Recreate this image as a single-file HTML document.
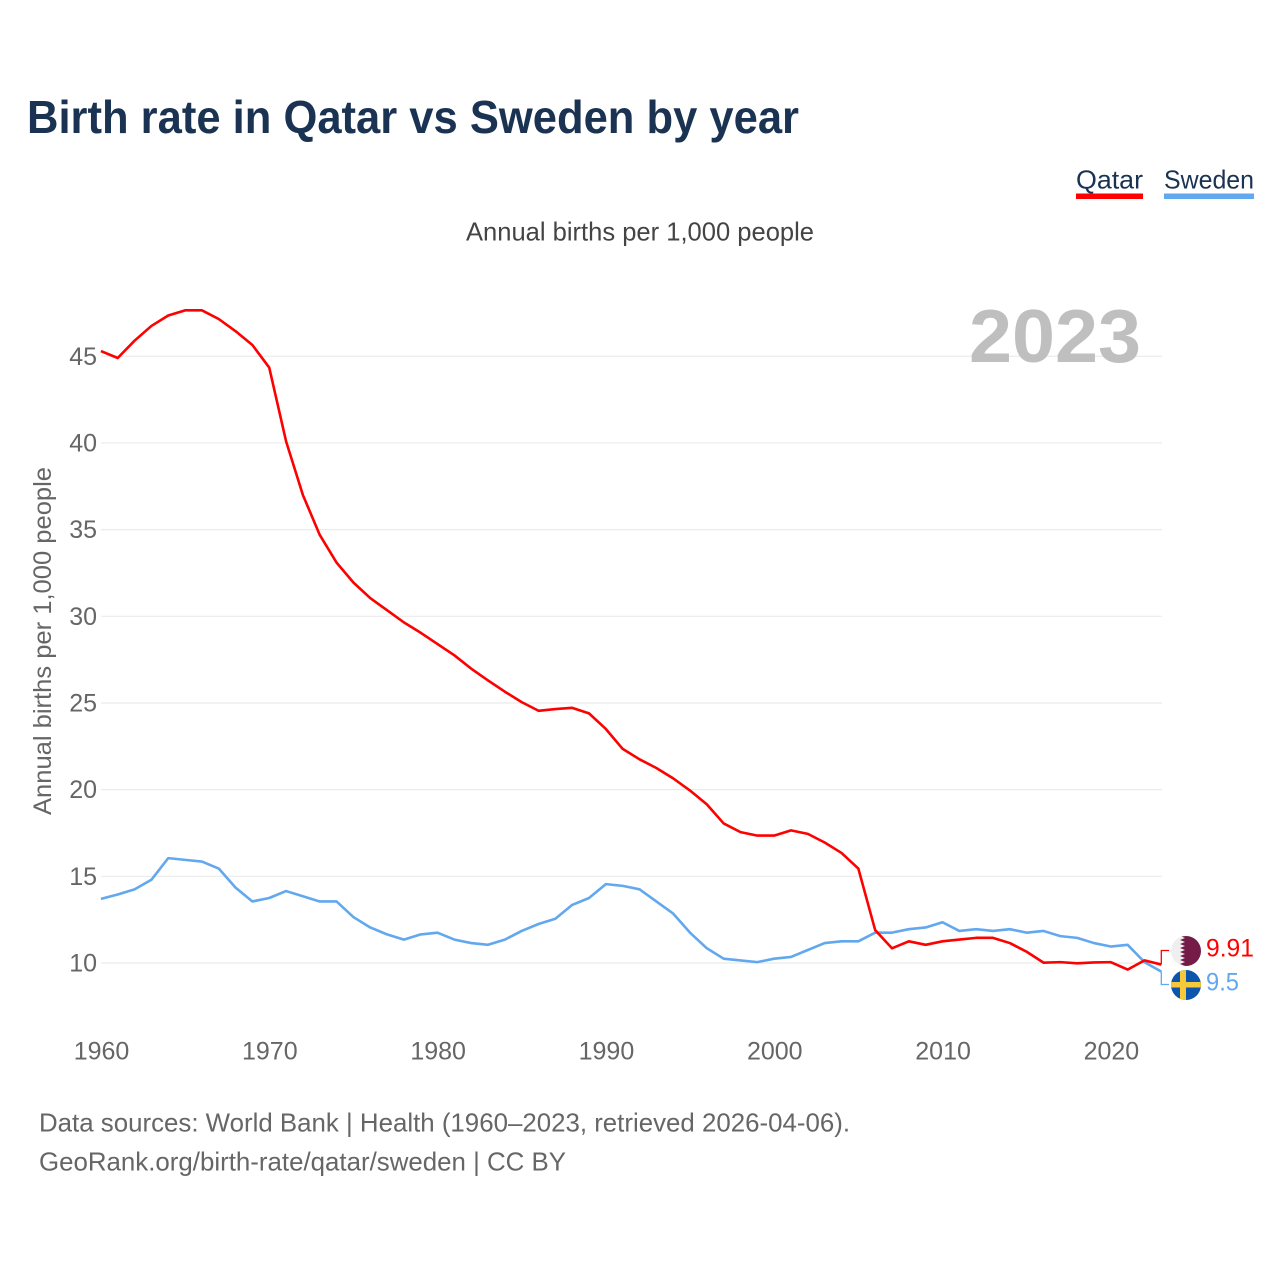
<!DOCTYPE html>
<html lang="en">
<head>
<meta charset="utf-8">
<title>Birth rate in Qatar vs Sweden by year</title>
<style>
html,body{margin:0;padding:0;background:#fff;}
svg{display:block;font-family:"Liberation Sans",sans-serif;}
</style>
</head>
<body>
<svg id="chart" xmlns="http://www.w3.org/2000/svg" width="1280" height="1280" viewBox="0 0 1280 1280">
  <rect x="0" y="0" width="1280" height="1280" fill="#fff"/>
  <text x="27" y="133" font-size="46" font-weight="700" fill="#1a3353" textLength="772" lengthAdjust="spacingAndGlyphs">Birth rate in Qatar vs Sweden by year</text>

  <g>
    <text x="1076" y="188.5" font-size="26" fill="#1a3353" textLength="67" lengthAdjust="spacingAndGlyphs">Qatar</text>
    <rect x="1076" y="193.5" width="67" height="5.5" fill="#ff0000"/>
  </g>
  <g>
    <text x="1164" y="188.5" font-size="26" fill="#1a3353" textLength="90" lengthAdjust="spacingAndGlyphs">Sweden</text>
    <rect x="1164" y="193.5" width="90" height="5.5" fill="#62a8ef"/>
  </g>

  <text x="466" y="240.5" font-size="26" fill="#444" textLength="348" lengthAdjust="spacingAndGlyphs">Annual births per 1,000 people</text>
  <text transform="translate(51,815) rotate(-90)" x="0" y="0" font-size="25" fill="#666" textLength="348" lengthAdjust="spacingAndGlyphs">Annual births per 1,000 people</text>

  <g id="grid"></g>
  <g id="yticks"></g>
  <g id="xticks"></g>

  <text x="969" y="362" font-size="75" font-weight="700" fill="#bfbfbf" textLength="172" lengthAdjust="spacingAndGlyphs">2023</text>

  <g id="series"></g>

  <defs>
    <clipPath id="qatar-clip"><circle cx="1186" cy="951" r="15"/></clipPath>
    <clipPath id="sweden-clip"><circle cx="1186" cy="985" r="15"/></clipPath>
  </defs>
  <g clip-path="url(#qatar-clip)">
    <rect x="1171" y="936" width="30" height="30" fill="#efefef"/>
    <polygon fill="#741c47" points="1201,936 1180,936 1185,938 1180,940 1185,942 1180,944 1185,946 1180,948 1185,950 1180,952 1185,954 1180,956 1185,958 1180,960 1185,962 1180,964 1185,966 1201,966"/>
  </g>
  <g clip-path="url(#sweden-clip)">
    <rect x="1171" y="970" width="30" height="30" fill="#0b55ad"/>
    <rect x="1180" y="970" width="6" height="30" fill="#f6c93a"/>
    <rect x="1171" y="982" width="30" height="5.5" fill="#f6c93a"/>
  </g>

  <text x="1206" y="956.5" font-size="25" fill="#ff0000" textLength="48" lengthAdjust="spacingAndGlyphs">9.91</text>
  <text x="1206" y="990.5" font-size="25" fill="#62a8ef" textLength="33" lengthAdjust="spacingAndGlyphs">9.5</text>

  <text x="39" y="1131.5" font-size="26" fill="#666" textLength="811" lengthAdjust="spacingAndGlyphs">Data sources: World Bank | Health (1960–2023, retrieved 2026-04-06).</text>
  <text x="39" y="1170.5" font-size="26" fill="#666" textLength="527" lengthAdjust="spacingAndGlyphs">GeoRank.org/birth-rate/qatar/sweden | CC BY</text>
</svg>
<script>
const startYear = 1960;
const xTickLabels = [1960, 1970, 1980, 1990, 2000, 2010, 2020];
const yTickLabels = [10, 15, 20, 25, 30, 35, 40, 45];
const qatarValues = [
  45.3, 44.9, 45.9, 46.75, 47.35, 47.65, 47.65, 47.15, 46.45, 45.65,
  44.35, 40.1, 37.0, 34.7, 33.1, 31.95, 31.05, 30.35, 29.65, 29.05,
  28.4, 27.75, 26.98, 26.3, 25.65, 25.05, 24.55, 24.65, 24.72, 24.4,
  23.5, 22.35, 21.75, 21.25, 20.65, 19.95, 19.15, 18.05, 17.55, 17.35,
  17.35, 17.65, 17.45, 16.95, 16.35, 15.45, 11.9, 10.85, 11.25, 11.05,
  11.25, 11.35, 11.45, 11.45, 11.15, 10.65, 10.02, 10.05, 9.98, 10.03,
  10.05, 9.62, 10.15, 9.91
];
const swedenValues = [
  13.7, 13.95, 14.25, 14.8, 16.05, 15.95, 15.85, 15.45, 14.35, 13.55,
  13.75, 14.15, 13.85, 13.55, 13.55, 12.65, 12.05, 11.65, 11.35, 11.65,
  11.75, 11.35, 11.15, 11.05, 11.35, 11.85, 12.25, 12.55, 13.35, 13.75,
  14.55, 14.45, 14.25, 13.55, 12.85, 11.75, 10.85, 10.25, 10.15, 10.05,
  10.25, 10.35, 10.75, 11.15, 11.25, 11.25, 11.75, 11.75, 11.95, 12.05,
  12.35, 11.85, 11.95, 11.85, 11.95, 11.75, 11.85, 11.55, 11.45, 11.15,
  10.95, 11.05, 10.05, 9.5
];

const NS = 'http://www.w3.org/2000/svg';
const x = function (year) { return 100.9 + (year - 1960) * (1060.4 / 63); };
const y = function (value) { return 963 - (value - 10) * 17.335; };

function make(tag, attrs, parent, text) {
  const el = document.createElementNS(NS, tag);
  Object.keys(attrs).forEach(function (k) { el.setAttribute(k, attrs[k]); });
  if (text !== undefined) el.textContent = text;
  parent.appendChild(el);
  return el;
}

const grid = document.getElementById('grid');
const yticks = document.getElementById('yticks');
yTickLabels.forEach(function (v) {
  const line = make('line', { x1: 101, x2: 1162, y1: y(v), y2: y(v), stroke: '#ebebeb', 'stroke-width': 1.2 }, grid);
  
  
  const label = make('text', { x: 97, y: y(v) + 8.5, 'text-anchor': 'end', 'font-size': 25, fill: '#666' }, yticks, String(v));
  
  
});

const xticks = document.getElementById('xticks');
xTickLabels.forEach(function (t) {
  const label = make('text', { x: x(t) + 0.6, y: 1059.5, 'text-anchor': 'middle', 'font-size': 25, fill: '#666' }, xticks, String(t));
  
  
});

function linePoints(values) {
  return values.map(function (v, i) {
    return x(startYear + i).toFixed(2) + ',' + y(v).toFixed(2);
  }).join(' ');
}

const series = document.getElementById('series');

const swedenLine = make('polyline', { points: linePoints(swedenValues), fill: 'none', stroke: '#62a8ef', 'stroke-width': 2.6, 'stroke-linejoin': 'round' }, series);



const qatarLine = make('polyline', { points: linePoints(qatarValues), fill: 'none', stroke: '#ff0000', 'stroke-width': 2.6, 'stroke-linejoin': 'round' }, series);



const endX = x(startYear + qatarValues.length - 1);
const qatarLeader = make('polyline', { points: endX + ',' + y(qatarValues[qatarValues.length - 1]) + ' ' + endX + ',950.5 1169,950.5', fill: 'none', stroke: '#ff0000', 'stroke-width': 1.3 }, series);



const swedenLeader = make('polyline', { points: endX + ',' + y(swedenValues[swedenValues.length - 1]) + ' ' + endX + ',984.5 1169,984.5', fill: 'none', stroke: '#62a8ef', 'stroke-width': 1.3 }, series);


</script>
</body>
</html>
